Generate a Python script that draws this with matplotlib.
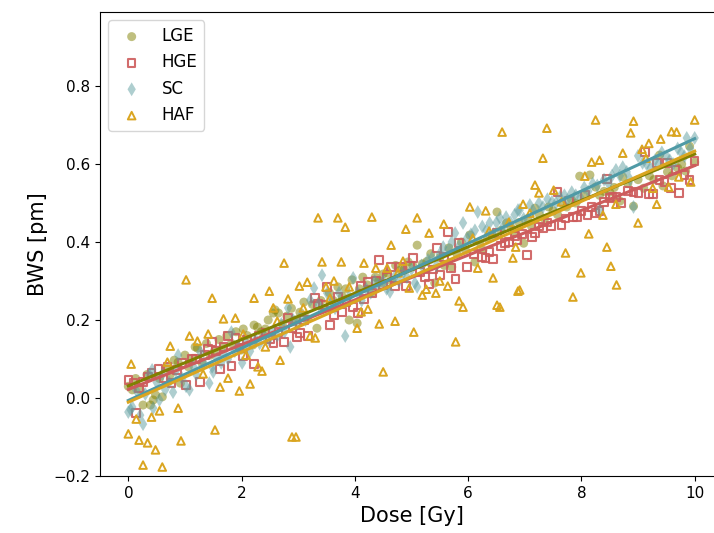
import matplotlib
matplotlib.use("Agg")
import matplotlib.pyplot as plt
import numpy as np

# LGE
lge_dose = [0.0, 0.07, 0.13, 0.21, 0.26, 0.33, 0.39, 0.44, 0.48, 0.55, 0.6, 0.67, 0.74, 0.81, 0.88, 0.92,
            1.0, 1.06, 1.12, 1.18, 1.22, 1.3, 1.38, 1.45, 1.52, 1.6, 1.67, 1.74, 1.82, 1.9, 1.99,
            2.03, 2.1, 2.2, 2.22, 2.28, 2.35, 2.42, 2.47, 2.56, 2.59, 2.65, 2.72, 2.8, 2.88, 2.95,
            3.03, 3.1, 3.17, 3.25, 3.33, 3.4, 3.48, 3.55, 3.62, 3.7, 3.78, 3.84, 3.9, 3.95,
            4.04, 4.08, 4.14, 4.22, 4.3, 4.36, 4.42, 4.48, 4.5, 4.58, 4.65, 4.72, 4.8, 4.87, 4.94,
            5.02, 5.1, 5.19, 5.27, 5.34, 5.41, 5.5, 5.58, 5.66, 5.71, 5.8, 5.88, 5.95,
            6.03, 6.12, 6.2, 6.26, 6.34, 6.42, 6.51, 6.58, 6.68, 6.75, 6.81, 6.9, 6.98,
            7.05, 7.12, 7.18, 7.26, 7.35, 7.42, 7.5, 7.58, 7.66, 7.74, 7.82, 7.9, 7.97,
            8.05, 8.15, 8.25, 8.32, 8.4, 8.5, 8.58, 8.68, 8.73, 8.82, 8.92,
            9.0, 9.1, 9.2, 9.28, 9.38, 9.44, 9.52, 9.6, 9.7, 9.77, 9.84, 9.91, 10.0]
lge_bws = [0.03, 0.021, 0.05, 0.021, -0.018, 0.06, -0.018, -0.005, 0.008, 0.05, 0.003, 0.077, 0.06, 0.097, 0.092, 0.038,
           0.11, 0.08, 0.1, 0.131, 0.128, 0.09, 0.14, 0.11, 0.12, 0.15, 0.13, 0.16, 0.14, 0.17, 0.123,
           0.177, 0.16, 0.136, 0.187, 0.182, 0.17, 0.177, 0.2, 0.218, 0.226, 0.218, 0.19, 0.21, 0.23, 0.2,
           0.22, 0.246, 0.203, 0.24, 0.179, 0.25, 0.23, 0.27, 0.25, 0.285, 0.26, 0.28, 0.2, 0.303,
           0.192, 0.28, 0.31, 0.29, 0.27, 0.31, 0.3, 0.295, 0.318, 0.32, 0.3, 0.34, 0.328, 0.33, 0.349,
           0.34, 0.392, 0.344, 0.35, 0.37, 0.295, 0.36, 0.34, 0.385, 0.336, 0.37, 0.4, 0.38,
           0.418, 0.349, 0.4, 0.379, 0.41, 0.42, 0.477, 0.43, 0.449, 0.44, 0.426, 0.45, 0.397,
           0.46, 0.44, 0.487, 0.47, 0.46, 0.49, 0.48, 0.47, 0.5, 0.49, 0.51, 0.5, 0.569,
           0.52, 0.572, 0.541, 0.52, 0.53, 0.528, 0.54, 0.505, 0.567, 0.55, 0.492,
           0.56, 0.538, 0.57, 0.56, 0.623, 0.544, 0.58, 0.57, 0.59, 0.6, 0.582, 0.646, 0.605]

# HGE
hge_dose = [0.0, 0.09, 0.14, 0.19, 0.26, 0.35, 0.41, 0.53, 0.62, 0.69, 0.76, 0.86, 0.95,
            1.02, 1.12, 1.2, 1.27, 1.35, 1.41, 1.48, 1.55, 1.62, 1.68, 1.76, 1.82, 1.89, 1.96,
            2.03, 2.1, 2.22, 2.3, 2.42, 2.5, 2.56, 2.65, 2.75, 2.82, 2.9, 2.98,
            3.03, 3.1, 3.17, 3.3, 3.35, 3.44, 3.51, 3.56, 3.63, 3.7, 3.77, 3.85, 3.97,
            4.06, 4.11, 4.16, 4.23, 4.3, 4.37, 4.43, 4.5, 4.57, 4.64, 4.71, 4.8, 4.9, 4.97,
            5.03, 5.15, 5.24, 5.31, 5.38, 5.45, 5.5, 5.57, 5.64, 5.7, 5.78, 5.84, 5.98,
            6.1, 6.24, 6.31, 6.38, 6.44, 6.51, 6.58, 6.65, 6.72, 6.83, 6.86, 6.95,
            7.04, 7.13, 7.18, 7.25, 7.32, 7.4, 7.46, 7.58, 7.65, 7.72, 7.78, 7.85, 7.92,
            8.0, 8.06, 8.11, 8.18, 8.25, 8.32, 8.4, 8.45, 8.5, 8.55, 8.62, 8.7, 8.82, 8.92,
            9.01, 9.12, 9.19, 9.26, 9.33, 9.38, 9.47, 9.51, 9.58, 9.66, 9.72, 9.82, 9.91, 10.0]
hge_bws = [0.046, 0.038, -0.038, 0.026, 0.041, 0.055, 0.064, 0.074, 0.05, 0.08, 0.038, 0.072, 0.09,
           0.033, 0.1, 0.1, 0.041, 0.11, 0.126, 0.144, 0.12, 0.074, 0.131, 0.159, 0.082, 0.154, 0.13,
           0.108, 0.15, 0.087, 0.16, 0.167, 0.15, 0.141, 0.17, 0.144, 0.205, 0.18, 0.156,
           0.167, 0.2, 0.159, 0.256, 0.241, 0.238, 0.285, 0.187, 0.213, 0.259, 0.221, 0.245, 0.233,
           0.218, 0.287, 0.254, 0.297, 0.269, 0.3, 0.354, 0.29, 0.31, 0.336, 0.287, 0.336, 0.287, 0.338,
           0.359, 0.323, 0.31, 0.292, 0.33, 0.385, 0.315, 0.362, 0.426, 0.333, 0.305, 0.397, 0.336,
           0.37, 0.362, 0.359, 0.374, 0.356, 0.423, 0.39, 0.397, 0.4, 0.415, 0.405, 0.42,
           0.367, 0.413, 0.423, 0.44, 0.436, 0.45, 0.441, 0.528, 0.444, 0.46, 0.505, 0.464, 0.464,
           0.48, 0.521, 0.469, 0.49, 0.474, 0.479, 0.503, 0.562, 0.513, 0.515, 0.515, 0.5, 0.531, 0.528,
           0.526, 0.631, 0.523, 0.523, 0.603, 0.559, 0.554, 0.603, 0.538, 0.585, 0.526, 0.572, 0.559, 0.608]

# SC
sc_dose = [0.0, 0.04, 0.07, 0.14, 0.21, 0.26, 0.3, 0.37, 0.42, 0.44, 0.5, 0.55, 0.6, 0.65, 0.72, 0.79, 0.84, 0.88, 0.95,
           1.02, 1.08, 1.15, 1.2, 1.27, 1.33, 1.43, 1.48, 1.5, 1.57, 1.64, 1.7, 1.76, 1.82, 1.88, 1.95,
           2.01, 2.08, 2.15, 2.25, 2.32, 2.4, 2.48, 2.55, 2.63, 2.7, 2.76, 2.82, 2.86, 2.91, 2.98,
           3.05, 3.13, 3.21, 3.28, 3.36, 3.42, 3.51, 3.58, 3.65, 3.72, 3.83, 3.9, 3.97,
           4.05, 4.12, 4.2, 4.28, 4.35, 4.42, 4.5, 4.56, 4.62, 4.7, 4.78, 4.85, 4.92,
           5.0, 5.06, 5.1, 5.18, 5.29, 5.36, 5.44, 5.5, 5.56, 5.65, 5.71, 5.77, 5.84, 5.91, 5.98,
           6.05, 6.12, 6.17, 6.25, 6.32, 6.38, 6.45, 6.5, 6.56, 6.62, 6.67, 6.75, 6.82, 6.88, 6.91, 6.98,
           7.09, 7.15, 7.25, 7.32, 7.4, 7.48, 7.55, 7.62, 7.7, 7.76, 7.83, 7.9, 7.98,
           8.05, 8.12, 8.2, 8.28, 8.32, 8.4, 8.48, 8.54, 8.61, 8.68, 8.73, 8.8, 8.86, 8.92,
           9.0, 9.08, 9.15, 9.22, 9.3, 9.36, 9.42, 9.5, 9.56, 9.62, 9.7, 9.76, 9.82, 9.86, 9.92, 10.0]
sc_bws = [-0.036, -0.03, -0.023, 0.02, -0.044, -0.067, 0.01, 0.06, 0.072, -0.026, 0.04, -0.005, 0.06, 0.021, 0.04, 0.015, 0.07, 0.11, 0.05,
          0.03, 0.021, 0.08, 0.06, 0.118, 0.09, 0.038, 0.08, 0.067, 0.1, 0.09, 0.11, 0.1, 0.169, 0.12, 0.13,
          0.09, 0.14, 0.12, 0.15, 0.14, 0.16, 0.15, 0.17, 0.16, 0.19, 0.17, 0.231, 0.131, 0.2, 0.19,
          0.21, 0.2, 0.251, 0.282, 0.24, 0.315, 0.269, 0.25, 0.23, 0.27, 0.159, 0.26, 0.308,
          0.27, 0.25, 0.28, 0.27, 0.3, 0.29, 0.3, 0.28, 0.272, 0.31, 0.3, 0.32, 0.31,
          0.33, 0.295, 0.285, 0.34, 0.354, 0.36, 0.34, 0.37, 0.387, 0.38, 0.4, 0.423, 0.39, 0.449, 0.41,
          0.42, 0.43, 0.477, 0.44, 0.43, 0.449, 0.42, 0.45, 0.462, 0.44, 0.464, 0.45, 0.47, 0.482, 0.482, 0.46,
          0.495, 0.48, 0.5, 0.49, 0.51, 0.503, 0.5, 0.515, 0.52, 0.51, 0.528, 0.52, 0.515,
          0.54, 0.53, 0.55, 0.545, 0.482, 0.56, 0.55, 0.57, 0.585, 0.57, 0.592, 0.58, 0.56, 0.49,
          0.621, 0.603, 0.6, 0.59, 0.61, 0.6, 0.63, 0.62, 0.61, 0.6, 0.64, 0.63, 0.62, 0.667, 0.64, 0.667]

# HAF
haf_dose = [0.0, 0.05, 0.14, 0.19, 0.26, 0.34, 0.41, 0.48, 0.55, 0.6, 0.69, 0.74, 0.88, 0.93,
            1.02, 1.08, 1.22, 1.32, 1.41, 1.48, 1.53, 1.62, 1.68, 1.76, 1.89, 1.96,
            2.03, 2.08, 2.15, 2.22, 2.29, 2.36, 2.42, 2.49, 2.56, 2.63, 2.68, 2.75, 2.82, 2.89, 2.96,
            3.02, 3.09, 3.16, 3.21, 3.3, 3.35, 3.42, 3.49, 3.56, 3.63, 3.7, 3.76, 3.83, 3.9,
            4.04, 4.11, 4.16, 4.23, 4.3, 4.37, 4.43, 4.5, 4.57, 4.64, 4.71, 4.76, 4.85, 4.9, 4.96,
            5.04, 5.1, 5.19, 5.26, 5.31, 5.43, 5.5, 5.57, 5.64, 5.78, 5.84, 5.91,
            6.03, 6.08, 6.17, 6.31, 6.37, 6.44, 6.51, 6.56, 6.6, 6.72, 6.79, 6.84, 6.88, 6.91, 6.97,
            7.09, 7.18, 7.25, 7.32, 7.39, 7.51, 7.65, 7.72, 7.85, 7.99,
            8.06, 8.13, 8.18, 8.25, 8.32, 8.38, 8.45, 8.52, 8.61, 8.62, 8.73, 8.87, 8.92,
            9.0, 9.07, 9.14, 9.19, 9.26, 9.33, 9.4, 9.54, 9.59, 9.68, 9.72, 9.93, 10.0]
haf_bws = [-0.092, 0.087, -0.054, -0.108, -0.172, -0.115, -0.049, -0.133, -0.033, -0.177, 0.092, 0.133, -0.026, -0.11,
           0.303, 0.159, 0.146, 0.062, 0.164, 0.256, -0.082, 0.028, 0.203, 0.051, 0.205, 0.018,
           0.164, 0.11, 0.036, 0.256, 0.08, 0.069, 0.131, 0.274, 0.231, 0.197, 0.097, 0.346, 0.254, -0.1, -0.1,
           0.287, 0.231, 0.297, 0.159, 0.154, 0.462, 0.349, 0.285, 0.256, 0.3, 0.462, 0.349, 0.438, 0.285,
           0.179, 0.221, 0.346, 0.228, 0.464, 0.333, 0.19, 0.067, 0.333, 0.392, 0.197, 0.321, 0.351, 0.433, 0.282,
           0.169, 0.462, 0.264, 0.279, 0.423, 0.269, 0.3, 0.446, 0.287, 0.144, 0.249, 0.233,
           0.49, 0.41, 0.333, 0.48, 0.428, 0.308, 0.238, 0.233, 0.682, 0.451, 0.359, 0.387, 0.274, 0.277, 0.497,
           0.474, 0.546, 0.526, 0.615, 0.692, 0.533, 0.503, 0.372, 0.259, 0.321,
           0.569, 0.421, 0.605, 0.713, 0.61, 0.469, 0.387, 0.338, 0.497, 0.29, 0.628, 0.68, 0.71,
           0.449, 0.638, 0.615, 0.653, 0.538, 0.497, 0.664, 0.541, 0.683, 0.682, 0.567, 0.554, 0.713]

series = [
    ("LGE", lge_dose, lge_bws, dict(marker="o", color="olive", alpha=0.5, s=42, edgecolors="none"), "olive"),
    ("HGE", hge_dose, hge_bws, dict(marker="s", facecolors="none", edgecolors="#cd5c5c", alpha=0.9, s=30, linewidths=1.5), "#cd5c5c"),
    ("SC", sc_dose, sc_bws, dict(marker="d", color="cadetblue", alpha=0.5, s=50, edgecolors="none"), "#4f9aa6"),
    ("HAF", haf_dose, haf_bws, dict(marker="^", facecolors="none", edgecolors="goldenrod", s=30, linewidths=1.4), "goldenrod"),
]

fig = plt.figure(figsize=(7.14, 5.33), dpi=100)
ax = fig.add_axes([100 / 714, 1 - 476 / 533, 623 / 714, 464 / 533])

for name, x, y, kw, lc in series:
    ax.scatter(x, y, label=name, **kw)

# linear fits
for name, x, y, kw, lc in series:
    k, b = np.polyfit(x, y, 1)
    xx = np.array([0, 10])
    ax.plot(xx, k * xx + b, color=lc, lw=2.2)

ax.set_xlim(-0.5, 10.5)
ax.set_ylim(-0.2, 0.99)
ax.set_xticks([0, 2, 4, 6, 8, 10])
ax.set_yticks([-0.2, 0.0, 0.2, 0.4, 0.6, 0.8])
ax.tick_params(labelsize=11)
ax.set_xlabel("Dose [Gy]", fontsize=15)
ax.set_ylabel("BWS [pm]", fontsize=15)
ax.legend(loc="upper left", fontsize=12)

fig.savefig("out.png", dpi=100)
